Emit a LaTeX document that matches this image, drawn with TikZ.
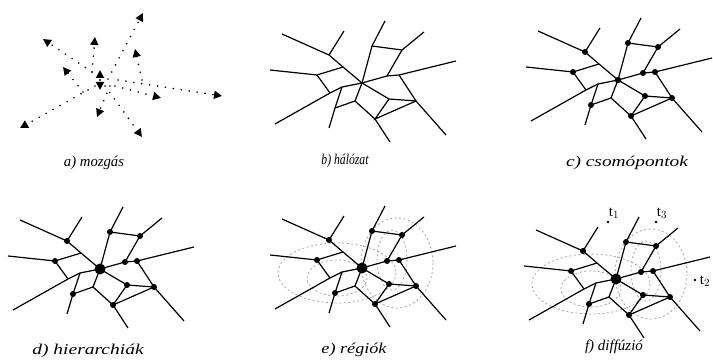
\documentclass[tikz,border=0pt]{standalone}
\usepackage{fontspec}
\setmainfont{Liberation Serif}
\usetikzlibrary{arrows.meta}

\tikzset{
  el/.style={line width=1.2pt},
  regio/.style={gray!70, line width=0.8pt, dash pattern=on 2pt off 2.5pt},
  mozg/.style={line width=1.8pt, line cap=round, dash pattern=on 0pt off 8pt,
    -{Triangle[length=8pt,width=8pt]}},
  cimke/.style={font=\fontsize{15}{17}\selectfont\itshape},
  tcimke/.style={font=\fontsize{15}{17}\selectfont, inner sep=0pt},
}

% a halozat, kozeppont (C) korul
\newcommand{\halo}{%
  \coordinate (C) at (0,0);
  \coordinate (UL) at (-80,-49);  \coordinate (A) at (-33,-28);
  \coordinate (Aup) at (-18,-52); \coordinate (Bj) at (-19,-16);
  \coordinate (Lend) at (-92,-13);\coordinate (B) at (-45,-8);
  \coordinate (Bdown) at (-32,10);\coordinate (LL) at (-87,41);
  \coordinate (P1) at (-20,4);    \coordinate (S) at (-27,25);
  \coordinate (Send) at (-33,45); \coordinate (T) at (-7,18);
  \coordinate (U) at (13,36);     \coordinate (Uend) at (28,59);
  \coordinate (V) at (10,-37);    \coordinate (Vend) at (23,-62);
  \coordinate (W) at (40,-33);    \coordinate (Wend) at (62,-51);
  \coordinate (X) at (25,-7);     \coordinate (Y) at (37,-8);
  \coordinate (Rend) at (94,-22); \coordinate (Z) at (54,18);
  \coordinate (Zend) at (84,52);  \coordinate (Q) at (27,16);
  \draw[el] (UL) -- (A) -- (Bj) -- (C);
  \draw[el] (A) -- (Aup);
  \draw[el] (Lend) -- (B) -- (Bj);
  \draw[el] (B) -- (Bdown);
  \draw[el] (LL) -- (Bdown) -- (P1) -- (C);
  \draw[el] (P1) -- (S) -- (Send);
  \draw[el] (S) -- (T);
  \draw[el] (C) -- (T) -- (U) -- (Uend);
  \draw[el] (C) -- (V) -- (Vend);
  \draw[el] (V) -- (W) -- (Wend);
  \draw[el] (W) -- (X);
  \draw[el] (C) -- (X) -- (Y) -- (Rend);
  \draw[el] (Y) -- (Z) -- (Zend);
  \draw[el] (C) -- (Q) -- (Z);
  \draw[el] (Q) -- (U) -- (Z);
}
\newcommand{\csomok}{%
  \foreach \p in {A,B,S,U,V,W,X,Y,Z,Q} \fill (\p) circle (3);
}
\newcommand{\regiok}{%
  \draw[regio] (-25,5) ellipse [x radius=59, y radius=30];
  \draw[regio] (35,-5) ellipse [x radius=36, y radius=45];
  \draw[regio] (-25,10) ellipse [x radius=30, y radius=18];
  \draw[regio] (30,-8) ellipse [x radius=15, y radius=30];
}

\begin{document}
\begin{tikzpicture}[x=1pt, y=-1pt]
  \useasboundingbox (0,0) rectangle (713,363);
  % a) mozgas
  \draw[mozg] (108,79) -- (143,13);
  \draw[mozg] (92,72) -- (43,39);
  \draw[mozg] (92,72) -- (95,37);
  \draw[mozg] (142,80) -- (135,49);
  \draw[mozg] (83,92) -- (63,67);
  \draw[mozg] (100,80) -- (100,70);
  \draw[mozg] (100,80) -- (100,90);
  \draw[mozg] (110,86) -- (97,117);
  \draw[mozg] (95,86) -- (20,128);
  \draw[mozg] (118,80) -- (222,96);
  \draw[mozg] (115,86) -- (161,98);
  \draw[mozg] (105,86) -- (142,137);
  \node[cimke] (la) at (94,163) {\scalebox{0.98}[1]{a) mozgás}};
  % b) halozat
  \begin{scope}[shift={(362,83)}]
    \halo
  \end{scope}
  \node[cimke] (lb) at (345,161) {\scalebox{0.78}[1]{b) hálózat}};
  % c) csomopontok
  \begin{scope}[shift={(618,80)}]
    \halo \csomok
    \fill (C) circle (3.2);
  \end{scope}
  \node[cimke] (lc) at (627,163) {\scalebox{1.29}[1]{c) csomópontok}};
  % d) hierarchiak
  \begin{scope}[shift={(100,269)}]
    \halo \csomok
    \fill (C) circle (5.5);
  \end{scope}
  \node[cimke] (ld) at (88,351) {\scalebox{1.3}[1]{d) hierarchiák}};
  % e) regiok
  \begin{scope}[shift={(362,268)}]
    \regiok \halo \csomok
    \fill (C) circle (5.5);
  \end{scope}
  \node[cimke] (le) at (354,350) {\scalebox{1.21}[1]{e) régiók}};
  % f) diffuzio
  \begin{scope}[shift={(616,279)}]
    \regiok \halo \csomok
    \fill (C) circle (5.5);
  \end{scope}
  \fill (608,222) circle (1.3);
  \node[tcimke] (t1) at (614,213) {t$_1$};
  \fill (656,222) circle (1.3);
  \node[tcimke] (t3) at (662,213) {t$_3$};
  \fill (695,280) circle (1.3);
  \node[tcimke] (t2) at (705,281) {t$_2$};
  \node[cimke] (lf) at (614,347) {f) diffúzió};
\end{tikzpicture}
\end{document}
